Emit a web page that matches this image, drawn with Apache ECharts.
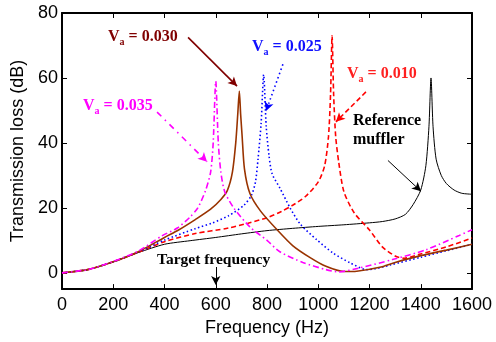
<!DOCTYPE html>
<html>
<head>
<meta charset="utf-8">
<style>
  html, body { margin: 0; padding: 0; background: #fff; }
  #main { width: 496px; height: 342px; }
</style>
<script src="https://cdn.jsdelivr.net/npm/echarts@6/dist/echarts.min.js"></script>
</head>
<body>
<div id="main"></div>
<script>
// frequency (Hz) / transmission loss (dB)
const refFreq = [0, 100, 200, 300, 400, 500, 600, 700, 800, 900, 1000, 1100, 1200, 1250, 1300, 1340, 1370, 1400, 1420, 1432, 1440, 1448, 1460, 1480, 1500, 1530, 1560, 1600]
const refTL = [0, 1.0, 3.4, 6.3, 8.8, 9.9, 10.9, 12.0, 13.0, 13.7, 14.3, 14.8, 15.4, 15.8, 16.6, 18, 21, 25.5, 33, 45, 60, 45, 35, 30, 27.5, 25.5, 24.5, 24.2]

const va010Freq = [0, 100, 200, 300, 400, 520, 650, 726, 800, 856, 900, 950, 1000, 1025, 1040, 1048, 1054, 1060, 1068, 1080, 1100, 1140, 1200, 1250, 1300, 1335, 1400, 1500, 1600]
const va010TL = [0, 1.0, 3.4, 6.4, 9.6, 12.1, 13.8, 15.3, 17, 18.9, 20.8, 23.5, 28, 33, 42, 55, 73, 55, 42, 34, 25, 18.5, 13.2, 8, 5.2, 4.5, 5.8, 8, 10.7]

const va025Freq = [0, 100, 200, 300, 400, 520, 585, 650, 710, 740, 755, 765, 777, 787, 797, 808, 820, 851, 890, 930, 994, 1058, 1124, 1189, 1220, 1280, 1400, 1500, 1600]
const va025TL = [0, 1.0, 3.4, 6.5, 10.1, 13.6, 15.3, 17.6, 20.8, 24, 28, 35, 46, 61, 45, 36, 30.5, 26, 20, 15, 10.2, 6.1, 3.1, 1, 1.2, 2.4, 4.8, 6.8, 8.8]

const va030Freq = [0, 100, 200, 300, 400, 455, 520, 580, 620, 645, 665, 678, 686, 692, 697, 703, 712, 733, 775, 840, 900, 970, 1030, 1100, 1150, 1240, 1300, 1400, 1500, 1600]
const va030TL = [0, 1.0, 3.4, 6.6, 10.9, 13.2, 16.4, 19.6, 22.6, 25.3, 31, 40, 49, 56, 49, 42, 32, 24.5, 19, 13.2, 8.4, 4.6, 2, 0.4, 0.5, 1.7, 3.2, 5.3, 7, 8.8]

const va035Freq = [0, 100, 200, 300, 390, 450, 500, 530, 560, 580, 590, 600, 610, 620, 635, 670, 735, 800, 850, 940, 1030, 1080, 1160, 1290, 1420, 1550, 1600]
const va035TL = [0, 1.0, 3.5, 6.8, 11.4, 13.8, 17.2, 20, 25.3, 31, 40, 59, 40, 31, 25, 20, 14, 10, 6.5, 3.2, 1, 0.3, 1.5, 4.1, 7.1, 11.5, 13.3]

const yTicks = [0, 20, 40, 60, 80]

function zip (xs, ys) {
  return xs.map((x, i) => [x, ys[i]])
}

const serif = '"Liberation Serif", "Times New Roman", serif'

function vaLabel (txt, left, top, color) {
  return {
    type: 'text',
    left: left,
    top: top,
    style: {
      text: '{v|V}{s|a}{v| = ' + txt + '}',
      rich: {
        v: { fontFamily: serif, fontWeight: 'bold', fontSize: 16, fill: color, lineHeight: 20 },
        s: { fontFamily: serif, fontWeight: 'bold', fontSize: 10, fill: color, lineHeight: 20, verticalAlign: 'bottom' }
      }
    }
  }
}

function arrow (from, to, color, type, width) {
  return {
    type: 'line',
    data: [],
    silent: true,
    markLine: {
      silent: true,
      symbol: ['none', 'arrow'],
      symbolSize: [7, 9],
      label: { show: false },
      lineStyle: { color: color, type: type, width: width },
      data: [[{ coord: from }, { coord: to }]]
    }
  }
}

function curve (name, xs, ys, lineStyle) {
  return {
    name: name,
    type: 'line',
    showSymbol: false,
    silent: true,
    smooth: 0.25,
    lineStyle: lineStyle,
    data: zip(xs, ys)
  }
}

const axisCommon = {
  axisLine: { onZero: false, lineStyle: { color: '#000', width: 2 } },
  axisTick: { inside: true, length: 5, lineStyle: { color: '#000', width: 1 } },
  splitLine: { show: false }
}

const option = {
  animation: false,
  backgroundColor: '#fff',
  grid: { left: 62, top: 13, right: 24, bottom: 51 },
  xAxis: [
    Object.assign({}, axisCommon, {
      type: 'value', min: 0, max: 1600, interval: 200, position: 'bottom',
      name: 'Frequency (Hz)', nameLocation: 'middle', nameGap: 27,
      nameTextStyle: { fontFamily: 'Liberation Sans', fontSize: 18, color: '#000' },
      axisLabel: { fontFamily: 'Liberation Sans', fontSize: 18, color: '#000', margin: 7, formatter: v => String(v) }
    }),
    Object.assign({}, axisCommon, {
      type: 'value', min: 0, max: 1600, interval: 200, position: 'top',
      axisLabel: { show: false }
    })
  ],
  yAxis: [
    Object.assign({}, axisCommon, {
      type: 'value', min: -5, max: 80, interval: 5, position: 'left',
      name: 'Transmission loss (dB)', nameLocation: 'middle', nameGap: 30,
      nameTextStyle: { fontFamily: 'Liberation Sans', fontSize: 18, color: '#000' },
      axisTick: { inside: true, length: 5, customValues: yTicks, lineStyle: { color: '#000', width: 1 } },
      axisLabel: { fontFamily: 'Liberation Sans', fontSize: 18, color: '#000', margin: 4, customValues: yTicks }
    }),
    Object.assign({}, axisCommon, {
      type: 'value', min: -5, max: 80, interval: 5, position: 'right',
      axisTick: { inside: true, length: 5, customValues: yTicks, lineStyle: { color: '#000', width: 1 } },
      axisLabel: { show: false }
    })
  ],
  series: [
    curve('Reference muffler', refFreq, refTL, { color: '#000', width: 1 }),
    curve('Va = 0.010', va010Freq, va010TL, { color: '#ff0000', width: 1.6, type: [5, 3] }),
    curve('Va = 0.025', va025Freq, va025TL, { color: '#0000ff', width: 1.6, type: [1.5, 2.5] }),
    curve('Va = 0.030', va030Freq, va030TL, { color: '#993300', width: 1.6 }),
    curve('Va = 0.035', va035Freq, va035TL, { color: '#ff00ff', width: 1.6, type: [6, 3, 1.5, 3] }),
    arrow([492, 72.5], [683, 57.5], '#800000', 'solid', 1.6),
    arrow([371, 49.5], [566, 34.2], '#ff00ff', [6, 5, 1.5, 5], 1.6),
    arrow([862, 64.2], [796, 49.8], '#0000ff', [1.5, 3], 1.6),
    arrow([1186, 55.7], [1069, 46.5], '#ff0000', [5, 3], 1.6),
    arrow([1272, 34.6], [1401, 25.1], '#000', 'solid', 1),
    arrow([600, 1.8], [600, -3.7], '#000', 'solid', 1)
  ],
  graphic: [
    vaLabel('0.030', 108, 29, '#800000'),
    vaLabel('0.035', 83, 98, '#ff00ff'),
    vaLabel('0.025', 252, 39, '#1010ff'),
    vaLabel('0.010', 347, 66, '#ff2020'),
    {
      type: 'text', left: 353, top: 111,
      style: {
        text: 'Reference\nmuffler', align: 'center', lineHeight: 19,
        fontFamily: serif, fontWeight: 'bold', fontSize: 16, fill: '#000'
      }
    },
    {
      type: 'text', left: 157, top: 252,
      style: {
        text: 'Target frequency',
        fontFamily: serif, fontWeight: 'bold', fontSize: 15.5, fill: '#000'
      }
    }
  ]
}

const myChart = echarts.init(document.getElementById('main'))
myChart.setOption(option)
</script>
</body>
</html>
